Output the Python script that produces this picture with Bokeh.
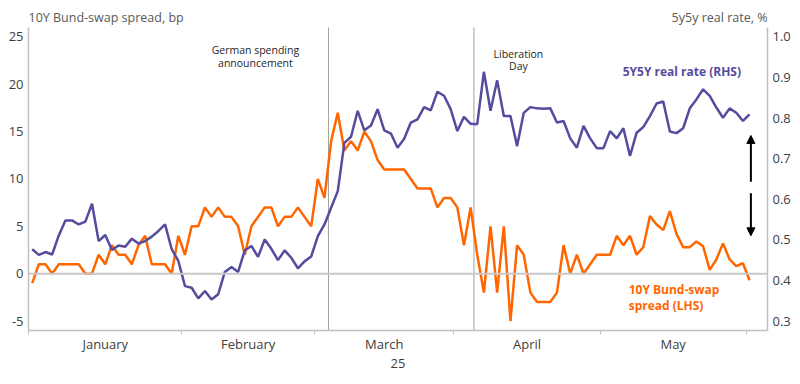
from bokeh.plotting import figure
from bokeh.models import Range1d, LinearAxis, FixedTicker, Span, Label, Arrow, NormalHead, PrintfTickFormatter
from bokeh.embed import file_html
from bokeh.resources import INLINE

# ---------------- data ----------------
months = ["January", "February", "March", "April", "May"]
business_days_per_month = [23, 20, 21, 22, 22]

# 10Y Bund-swap spread, bp (LHS) - one value per business day
spread = [-1, 1, 1, 0, 1, 1, 1, 1, 0, 0,
          2, 1, 3, 2, 2, 1, 3, 4, 1, 1,
          1, 0, 4, 2, 5, 5, 7, 6, 7, 6,
          6, 5, 2, 5, 6, 7, 7, 5, 6, 6,
          7, 6, 5, 10, 8, 14, 17, 13, 14, 13,
          15, 14, 12, 11, 11, 11, 11, 10, 9, 9,
          9, 7, 8, 8, 7, 3, 7, 2, -2, 5,
          -2, 5, -5, 3, 2, -2, -3, -3, -3, -2,
          3, 0, 2, 0, 1, 2, 2, 2, 4, 3,
          4, 2, 2.8, 6.1, 5.2, 4.6, 6.6, 4.2, 2.8, 2.8,
          3.4, 2.9, 0.4, 1.5, 3.2, 1.5, 0.8, 1.1, -0.7]

# 5y5y real rate, % (RHS)
real_rate = [0.477, 0.463, 0.470, 0.464, 0.511, 0.548, 0.548, 0.538, 0.545, 0.589,
             0.497, 0.512, 0.475, 0.486, 0.483, 0.503, 0.491, 0.497, 0.508, 0.522,
             0.538, 0.477, 0.448, 0.386, 0.382, 0.356, 0.374, 0.353, 0.366, 0.421,
             0.433, 0.421, 0.474, 0.485, 0.458, 0.501, 0.478, 0.450, 0.474, 0.456,
             0.430, 0.447, 0.459, 0.509, 0.538, 0.579, 0.620, 0.739, 0.754, 0.818,
             0.770, 0.782, 0.822, 0.770, 0.762, 0.727, 0.749, 0.789, 0.797, 0.827,
             0.819, 0.865, 0.855, 0.822, 0.768, 0.803, 0.786, 0.785, 0.914, 0.818,
             0.893, 0.805, 0.805, 0.731, 0.813, 0.827, 0.824, 0.823, 0.824, 0.789,
             0.793, 0.750, 0.727, 0.781, 0.750, 0.726, 0.726, 0.768, 0.750, 0.775,
             0.707, 0.764, 0.778, 0.805, 0.836, 0.841, 0.767, 0.763, 0.775, 0.824,
             0.846, 0.871, 0.855, 0.826, 0.801, 0.824, 0.813, 0.793, 0.809]

left_ticks = [-5, 0, 5, 10, 15, 20, 25]
right_ticks = [0.3, 0.4, 0.5, 0.6, 0.7, 0.8, 0.9, 1.0]
left_bounds = (-6, 26)          # extent of the left axis
right_bounds = (0.2767, 1.0233)  # matching extent of the right axis

events = [("German spending", "announcement", 44.6), ("Liberation", "Day", 66.5)]

x = list(range(len(spread)))

# month boundaries / centres in business-day index units
bounds = [-0.5]
for d in business_days_per_month:
    bounds.append(bounds[-1] + d)
mids = [(bounds[i] + bounds[i + 1]) / 2 for i in range(len(months))]

# right axis is a linear map of the left one
r_scale = (right_bounds[1] - right_bounds[0]) / (left_bounds[1] - left_bounds[0])
top_pad = 2.32  # extra room above the axes for the axis titles
y_top = left_bounds[1] + top_pad

# ---------------- style ----------------
FONT = "Open Sans"
ORANGE = "#ff6600"
PURPLE = "#544d9e"
GREY_AX = "#c0c0c0"
TXT = "#404040"

p = figure(width=800, height=384,
           x_range=Range1d(-0.56, 110.7), y_range=Range1d(left_bounds[0], y_top),
           output_backend="svg", toolbar_location=None,
           min_border_left=28, min_border_right=33,
           min_border_top=5, min_border_bottom=54)
p.extra_y_ranges = {"rhs": Range1d(right_bounds[0],
                                   right_bounds[0] + (y_top - left_bounds[0]) * r_scale)}
p.xgrid.visible = False
p.ygrid.visible = False
p.outline_line_color = None
p.background_fill_color = "white"
p.border_fill_color = "white"

# left axis
ya = p.yaxis[0]
ya.ticker = FixedTicker(ticks=left_ticks)
ya.formatter = PrintfTickFormatter(format="%d")
ya.bounds = left_bounds
ya.major_tick_line_color = None
ya.major_tick_out = 0
ya.major_tick_in = 0
ya.minor_tick_line_color = None
ya.axis_line_color = GREY_AX
ya.axis_line_width = 1.5
ya.major_label_text_font = FONT
ya.major_label_text_font_size = "13px"
ya.major_label_text_color = TXT
ya.major_label_standoff = 5

# right axis
ra = LinearAxis(y_range_name="rhs", ticker=FixedTicker(ticks=right_ticks),
                formatter=PrintfTickFormatter(format="%.1f"), bounds=right_bounds)
ra.major_tick_line_color = None
ra.major_tick_out = 0
ra.major_tick_in = 0
ra.minor_tick_line_color = None
ra.axis_line_color = GREY_AX
ra.axis_line_width = 1.5
ra.major_label_text_font = FONT
ra.major_label_text_font_size = "13px"
ra.major_label_text_color = TXT
ra.major_label_standoff = 5
p.add_layout(ra, "right")

# x axis: month names centred, ticks at month boundaries
xa = p.xaxis[0]
xa.ticker = FixedTicker(ticks=mids, minor_ticks=bounds)
xa.major_label_overrides = {m: name for m, name in zip(mids, months)}
xa.major_tick_line_color = None
xa.major_tick_out = 0
xa.major_tick_in = 0
xa.minor_tick_in = 0
xa.minor_tick_out = 4
xa.minor_tick_line_color = GREY_AX
xa.axis_line_color = GREY_AX
xa.axis_line_width = 1.5
xa.major_label_text_font = FONT
xa.major_label_text_font_size = "13px"
xa.major_label_text_color = TXT
xa.major_label_standoff = 0
xa.axis_label = "25"
xa.axis_label_text_font = FONT
xa.axis_label_text_font_style = "normal"
xa.axis_label_text_font_size = "13px"
xa.axis_label_text_color = TXT
xa.axis_label_standoff = 3

# zero line and event lines
p.add_layout(Span(location=0, dimension="width", line_color="#c8c8c8", line_width=2))
ev_x = [e[2] for e in events]
p.segment(x0=ev_x, y0=[left_bounds[0]] * len(ev_x), x1=ev_x, y1=[left_bounds[1]] * len(ev_x),
          line_color="#a0a0a0", line_width=1)

# series
p.line(x, spread, line_color=ORANGE, line_width=2.5)
p.line(x, real_rate, line_color=PURPLE, line_width=2.5, y_range_name="rhs")

# axis titles
title_y = 27.04
p.add_layout(Label(x=-0.56, y=title_y, text="10Y Bund-swap spread, bp", text_align="left",
                   text_baseline="middle", text_font=FONT, text_font_size="12.5px",
                   text_color="#595959"))
p.add_layout(Label(x=110.7, y=title_y, text="5y5y real rate, %", text_align="right",
                   text_baseline="middle", text_font=FONT, text_font_size="12.5px",
                   text_color="#595959"))

# event annotations
event_text_pos = [(33.6, 23.6, 22.2), (73.2, 23.25, 21.9)]
for (l1, l2, _), (tx, y1, y2) in zip(events, event_text_pos):
    for t, yy in ((l1, y1), (l2, y2)):
        p.add_layout(Label(x=tx, y=yy, text=t, text_align="center", text_baseline="middle",
                           text_font=FONT, text_font_size="10.5px", text_color="#262626"))

# series labels
p.add_layout(Label(x=88.9, y=21.4, text="5Y5Y real rate (RHS)", text_align="left",
                   text_baseline="middle", text_font=FONT, text_font_size="12px",
                   text_font_style="bold", text_color=PURPLE))
for t, yy in (("10Y Bund-swap", -1.7), ("spread (LHS)", -3.35)):
    p.add_layout(Label(x=89.8, y=yy, text=t, text_align="left", text_baseline="middle",
                       text_font=FONT, text_font_size="12px", text_font_style="bold",
                       text_color=ORANGE))

# arrows
ax_x = 108.2
p.add_layout(Arrow(end=NormalHead(size=8, fill_color="black", line_color="black"),
                   x_start=ax_x, y_start=9.7, x_end=ax_x, y_end=14.6,
                   line_color="black", line_width=2))
p.add_layout(Arrow(end=NormalHead(size=8, fill_color="black", line_color="black"),
                   x_start=ax_x, y_start=8.5, x_end=ax_x, y_end=4.0,
                   line_color="black", line_width=2))

open("out.html", "w").write(file_html(p, INLINE))
